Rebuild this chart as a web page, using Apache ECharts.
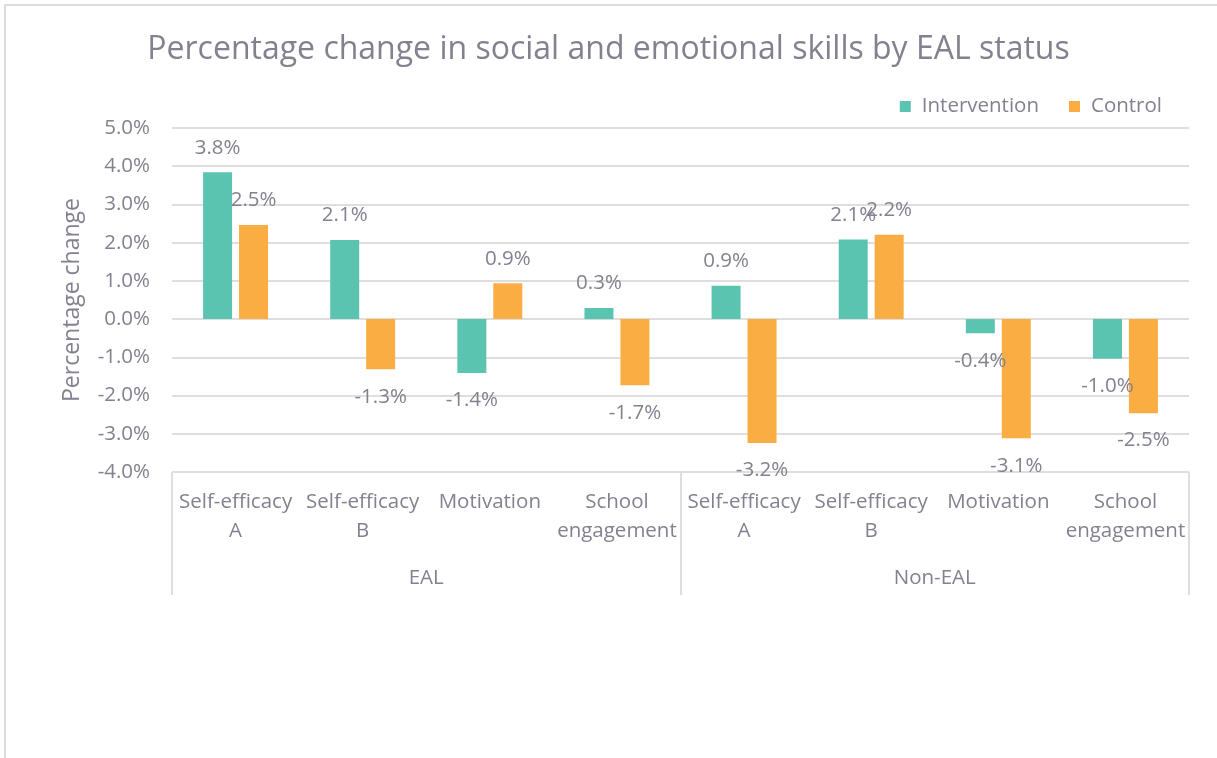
<!DOCTYPE html>
<html>
<head>
<meta charset="utf-8">
<script src="https://cdn.jsdelivr.net/npm/echarts@6/dist/echarts.min.js"></script>
<style>
  html, body { margin: 0; padding: 0; background: #fff; }
  #frame { position: absolute; left: 4px; top: 4px; width: 1300px; height: 800px;
           border-left: 2px solid #dcdcdc; border-top: 2px solid #dcdcdc; }
  #chart { position: absolute; left: 0; top: 0; width: 1217px; height: 758px; }
</style>
</head>
<body>
<div id="frame"></div>
<div id="chart"></div>
<script>
const categories = [
  'Self-efficacy\nA', 'Self-efficacy\nB', 'Motivation', 'School\nengagement',
  'Self-efficacy\nA', 'Self-efficacy\nB', 'Motivation', 'School\nengagement'
]
const groups = ['EAL', 'Non-EAL']
const intervention = [3.84, 2.07, -1.41, 0.29, 0.87, 2.08, -0.37, -1.04]
const control = [2.46, -1.31, 0.94, -1.73, -3.24, 2.21, -3.12, -2.46]

const textColor = '#85808f'
const lineColor = '#dedede'
const font = 'Open Sans'
const size = 20.5

const toItems = values => values.map(v => ({
  value: v,
  label: v < 0 ? { position: 'bottom', distance: 17 } : { position: 'top', distance: 14 }
}))

const chart = echarts.init(document.getElementById('chart'))

const option = {
  animation: false,
  textStyle: { fontFamily: font, color: textColor },
  title: {
    text: 'Percentage change in social and emotional skills by EAL status',
    left: 'center',
    top: 29,
    textStyle: { fontFamily: font, fontSize: 32, fontWeight: 'normal', color: textColor }
  },
  legend: {
    right: 50,
    top: 91,
    itemWidth: 11,
    itemHeight: 11,
    itemGap: 30,
    icon: 'rect',
    textStyle: { fontFamily: font, fontSize: size, color: textColor, padding: [0, 0, 0, 6] },
    data: ['Intervention', 'Control']
  },
  grid: { left: 172, right: 28, top: 128, bottom: 286 },
  xAxis: [
    {
      type: 'category',
      data: categories,
      axisLine: { show: false },
      axisTick: { show: false },
      axisLabel: {
        interval: 0,
        margin: 16,
        fontFamily: font,
        fontSize: size,
        lineHeight: 29,
        color: textColor
      }
    },
    {
      type: 'category',
      data: groups,
      position: 'bottom',
      axisLine: { show: false },
      axisTick: { show: true, length: 123, lineStyle: { color: lineColor, width: 2 } },
      axisLabel: { margin: 96, fontFamily: font, fontSize: size, color: textColor }
    }
  ],
  yAxis: {
    type: 'value',
    min: -4,
    max: 5,
    interval: 1,
    name: 'Percentage change',
    nameLocation: 'middle',
    nameGap: 88,
    nameTextStyle: { fontFamily: font, fontSize: 23, color: textColor },
    axisLine: { show: false },
    axisTick: { show: false },
    axisLabel: {
      margin: 22,
      fontFamily: font,
      fontSize: size,
      color: textColor,
      formatter: v => v.toFixed(1) + '%'
    },
    splitLine: { lineStyle: { color: lineColor, width: 2 } }
  },
  series: [
    {
      name: 'Intervention',
      type: 'bar',
      data: toItems(intervention),
      barWidth: 29,
      barGap: '24%',
      itemStyle: { color: '#5bc4b0' },
      label: {
        show: true,
        fontFamily: font,
        fontSize: size,
        color: textColor,
        formatter: p => p.value.toFixed(1) + '%'
      }
    },
    {
      name: 'Control',
      type: 'bar',
      data: toItems(control),
      barWidth: 29,
      barGap: '24%',
      itemStyle: { color: '#faad42' },
      label: {
        show: true,
        fontFamily: font,
        fontSize: size,
        color: textColor,
        formatter: p => p.value.toFixed(1) + '%'
      }
    }
  ]
}

chart.setOption(option)
</script>
</body>
</html>
